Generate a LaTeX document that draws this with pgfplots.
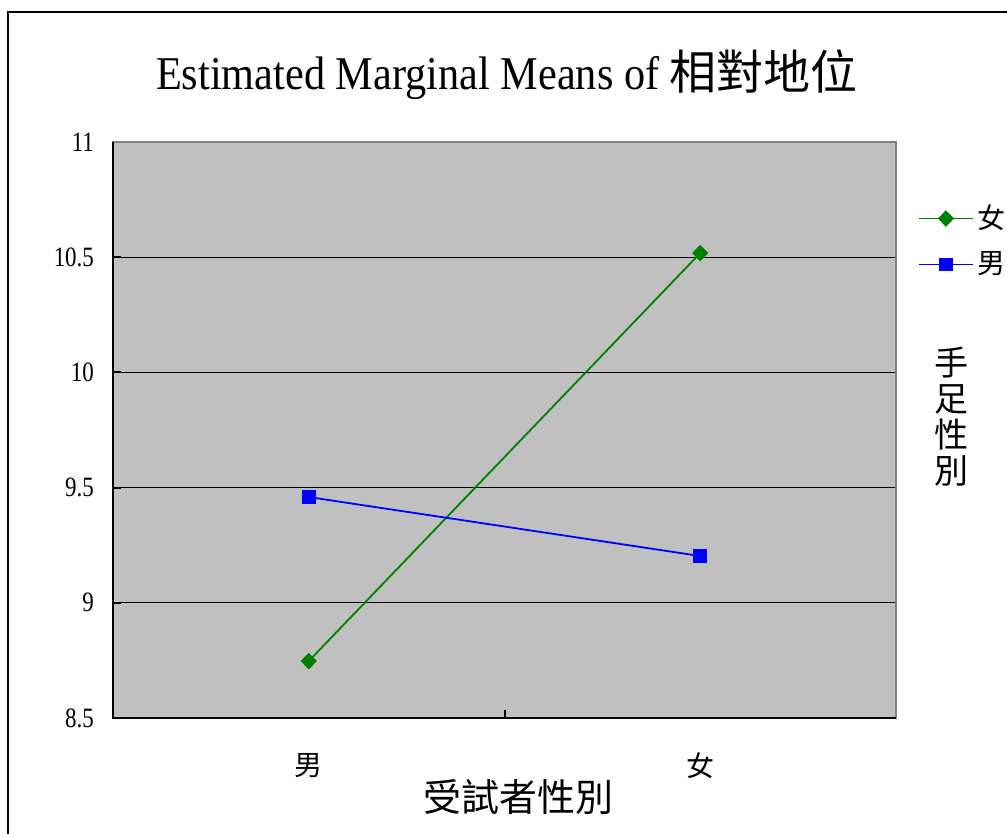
\documentclass[border=0pt]{standalone}
\usepackage{pgfplots}
\pgfplotsset{compat=1.18}
\usepackage{fontspec}
\setmainfont{Liberation Serif}[FakeStretch=0.82]
\newfontfamily\titlefont{Liberation Serif}[FakeStretch=0.9]
\newfontfamily\cjk{Noto Sans CJK TC}
\definecolor{bg}{RGB}{192,192,192}
\definecolor{sgreen}{RGB}{0,128,0}
\definecolor{sblue}{RGB}{0,0,255}
\begin{document}
\begin{tikzpicture}[x=0.5pt,y=0.5pt]
\path[use as bounding box] (0,0) rectangle (1007,834);
\draw[line width=1pt] (8,0) -- (8,822) -- (1007,822);
\node[font=\titlefont\fontsize{23.5}{28}\selectfont] at (507,759) {Estimated Marginal Means of {\cjk 相對地位}};
\begin{axis}[at={(56.5pt,58pt)}, anchor=south west,
  width=391.5pt, height=288pt, scale only axis,
  xmin=0, xmax=2, ymin=8.5, ymax=11,
  clip=false,
  axis background/.style={fill=bg},
  axis line style={draw=gray, line width=1.2pt},
  xtick={1}, xticklabels={},
  extra x ticks={0.5,1.5},
  extra x tick labels={{\cjk 男},{\cjk 女}},
  extra x tick style={major tick length=0pt, grid=none},
  ytick={8.5,9,9.5,10,10.5,11},
  yticklabels={8.5,9,9.5,10,10.5,11},
  ymajorgrids,
  grid style={black, line width=0.4pt},
  tick style={black, line width=1pt},
  major tick length=4pt,
  tick align=inside,
  xtick pos=bottom, ytick pos=left,
  /pgf/number format/assume math mode=true,
  tick label style={font=\fontsize{14}{16}\selectfont},
  yticklabel style={xshift=-6pt},
  xticklabel style={yshift=-14pt},
  legend style={at={(1.02,0.905)}, anchor=north west, draw=none, fill=none,
    font=\fontsize{14}{16}\selectfont, row sep=6pt,
    /tikz/every even column/.append style={column sep=2pt}},
  legend cell align=left,
  legend image code/.code={\draw[mark repeat=2,mark phase=2,#1] plot coordinates {(0pt,0pt) (13.5pt,0pt) (27pt,0pt)};},
]
\addplot[sgreen, line width=0.9pt, mark=diamond*, mark size=3.5pt, mark options={solid,fill=sgreen,xscale=1.3}]
  coordinates {(0.5,8.747) (1.5,10.518)};
\addlegendentry{\cjk 女}
\addplot[sblue, line width=0.9pt, mark=square*, mark size=3pt, mark options={solid,fill=sblue}]
  coordinates {(0.5,9.459) (1.5,9.203)};
\addlegendentry{\cjk 男}
\draw[black, line width=1pt] (rel axis cs:0,1) -- (rel axis cs:0,0) -- (rel axis cs:1,0);
\end{axis}
\node[font=\cjk\fontsize{17}{18}\selectfont, align=center, inner sep=0pt] at (951,417) {手\\足\\性\\別};
\node[font=\cjk\fontsize{19}{20}\selectfont] at (518,37) {受試者性別};
\end{tikzpicture}
\end{document}
